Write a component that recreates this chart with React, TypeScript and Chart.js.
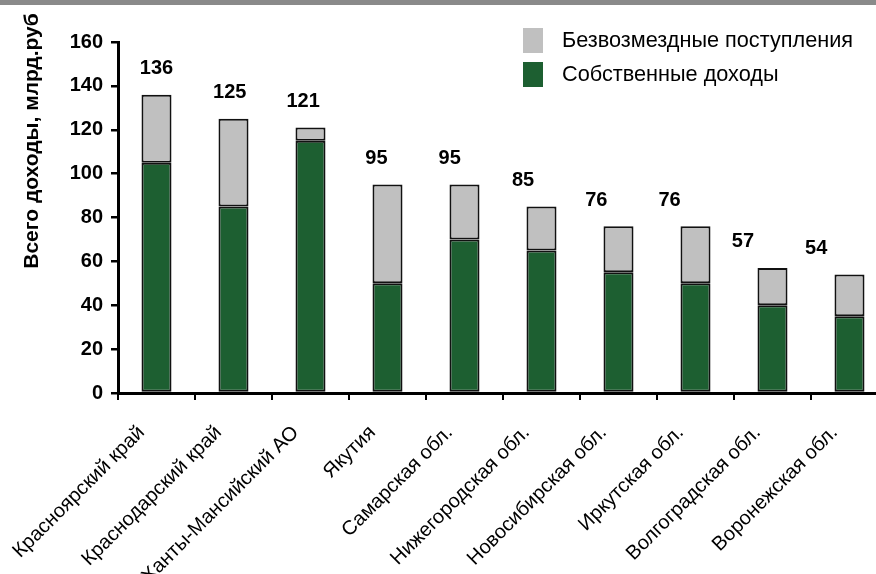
import { useEffect, useRef } from "react";
import { Chart, registerables } from "chart.js";

Chart.register(...registerables);

const regions = [
  "Красноярский край",
  "Краснодарский край",
  "Ханты-Мансийский АО",
  "Якутия",
  "Самарская обл.",
  "Нижегородская обл.",
  "Новосибирская обл.",
  "Иркутская обл.",
  "Волгоградская обл.",
  "Воронежская обл.",
];
const ownRevenue = [105, 85, 115, 50, 70, 65, 55, 50, 40, 35];
const transfers = [31, 40, 6, 45, 25, 20, 21, 26, 17, 19];
const totalLabels = ["136", "125", "121", "95", "95", "85", "76", "76", "57", "54"];
const seriesTransfers = "Безвозмездные поступления";
const seriesOwn = "Собственные доходы";
const yTitle = "Всего доходы, млрд.руб";

const GREEN = "#1d5f31";
const GRAY = "#c0c0c0";
const FONT = "'Liberation Sans', Arial, sans-serif";

const decorPlugin = {
  id: "decor",
  afterDraw(chart: any) {
    const ctx = chart.ctx;
    const y = chart.scales.y;
    const metaTop = chart.getDatasetMeta(1);
    ctx.save();
    // value labels
    ctx.fillStyle = "#000";
    ctx.font = `bold 20px ${FONT}`;
    ctx.textAlign = "center";
    ctx.textBaseline = "middle";
    metaTop.data.forEach((bar: any, i: number) => {
      const total = ownRevenue[i] + transfers[i];
      ctx.fillText(totalLabels[i], bar.x - 3.7 * i, y.getPixelForValue(total) - 26);
    });
    // y title
    ctx.save();
    ctx.translate(32, 141);
    ctx.rotate(-Math.PI / 2);
    ctx.font = `bold 21px ${FONT}`;
    ctx.fillText(yTitle, 0, 0);
    ctx.restore();
    // legend
    const items = [
      { label: seriesTransfers, color: GRAY },
      { label: seriesOwn, color: GREEN },
    ];
    ctx.textAlign = "left";
    ctx.font = `21.7px ${FONT}`;
    items.forEach((it, k) => {
      const top = 28 + k * 34;
      ctx.fillStyle = it.color;
      ctx.fillRect(523, top, 20, 25);
      ctx.fillStyle = "#000";
      ctx.fillText(it.label, 562, top + 13);
    });
    ctx.restore();
  },
};

export default function App() {
  const ref = useRef<HTMLCanvasElement | null>(null);
  useEffect(() => {
    if (!ref.current) return;
    const chart = new Chart(ref.current, {
      type: "bar",
      data: {
        labels: regions,
        datasets: [
          {
            label: seriesOwn,
            data: ownRevenue,
            backgroundColor: GREEN,
            borderColor: "#111",
            borderWidth: 2,
            borderSkipped: false,
          },
          {
            label: seriesTransfers,
            data: transfers,
            backgroundColor: GRAY,
            borderColor: "#111",
            borderWidth: 2,
            borderSkipped: false,
          },
        ],
      },
      options: {
        responsive: false,
        animation: false,
        devicePixelRatio: 1,
        layout: { padding: { top: 42, left: 0, right: 2, bottom: 0 } },
        datasets: { bar: { categoryPercentage: 1, barPercentage: 0.39 } },
        plugins: { legend: { display: false }, tooltip: { enabled: false } },
        scales: {
          x: {
            stacked: true,
            grid: {
              offset: true,
              drawOnChartArea: false,
              drawTicks: true,
              tickLength: 7,
              lineWidth: 2,
              color: "#000",
            },
            border: { display: true, color: "#000", width: 3 },
            ticks: {
              autoSkip: false,
              maxRotation: 45,
              minRotation: 45,
              labelOffset: -15,
              padding: 21,
              color: "#000",
              font: { family: FONT, size: 20 },
            },
            afterFit(scale: any) {
              scale.height = 181;
            },
          },
          y: {
            stacked: true,
            min: 0,
            max: 160,
            grid: {
              drawOnChartArea: false,
              drawTicks: true,
              tickLength: 7,
              lineWidth: 2.5,
              color: "#000",
            },
            border: { display: true, color: "#000", width: 3 },
            ticks: {
              stepSize: 20,
              padding: 8,
              color: "#000",
              font: { family: FONT, size: 20, weight: "bold" },
            },
            afterFit(scale: any) {
              scale.width = 118;
            },
          },
        },
      },
      plugins: [decorPlugin],
    });
    return () => chart.destroy();
  }, []);

  return (
    <div
      style={{
        position: "absolute",
        left: 0,
        top: 0,
        width: 876,
        height: 574,
        overflow: "hidden",
        background: "#fff",
      }}
    >
      <canvas ref={ref} width={890} height={574} style={{ display: "block" }} />
      <div
        style={{
          position: "absolute",
          left: 0,
          top: 0,
          width: 876,
          height: 5,
          background: "#8a8a8a",
        }}
      />
    </div>
  );
}
